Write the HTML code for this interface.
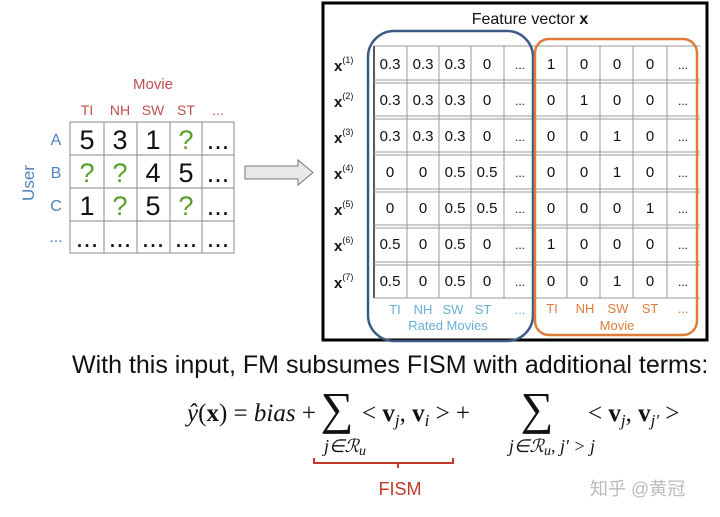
<!DOCTYPE html>
<html><head><meta charset="utf-8"><style>
html,body{margin:0;padding:0;background:#fff;}
svg{display:block;font-family:"Liberation Sans",Arial,sans-serif;}
</style></head><body>
<svg width="720" height="517" viewBox="0 0 720 517" xmlns="http://www.w3.org/2000/svg">
<!-- Left matrix -->
<text x="153" y="89" font-size="15" fill="#c0504d" text-anchor="middle">Movie</text>
<g font-size="14" fill="#c0504d" text-anchor="middle">
<text x="87" y="115">TI</text><text x="120" y="115">NH</text><text x="153" y="115">SW</text><text x="186" y="115">ST</text><text x="218" y="115">...</text>
</g>
<g font-size="16" fill="#4f81bd" text-anchor="middle">
<text x="56" y="145">A</text><text x="56" y="178">B</text><text x="56" y="211">C</text><text x="56" y="242">...</text>
</g>
<text x="0" y="0" font-size="17" fill="#4f81bd" text-anchor="middle" transform="translate(34,183) rotate(-90)">User</text>
<g stroke="#888" stroke-width="1" fill="none">
<rect x="70" y="122" width="164" height="131"/>
<line x1="104" y1="122" x2="104" y2="253"/><line x1="137" y1="122" x2="137" y2="253"/><line x1="170" y1="122" x2="170" y2="253"/><line x1="202" y1="122" x2="202" y2="253"/>
<line x1="70" y1="155" x2="234" y2="155"/><line x1="70" y1="188" x2="234" y2="188"/><line x1="70" y1="221" x2="234" y2="221"/>
</g>
<g font-size="27" text-anchor="middle" fill="#111">
<text x="87" y="149">5</text><text x="120" y="149">3</text><text x="153" y="149">1</text><text x="186" y="149" fill="#5aa02c">?</text><text x="218" y="149">...</text>
<text x="87" y="182" fill="#5aa02c">?</text><text x="120" y="182" fill="#5aa02c">?</text><text x="153" y="182">4</text><text x="186" y="182">5</text><text x="218" y="182">...</text>
<text x="87" y="215">1</text><text x="120" y="215" fill="#5aa02c">?</text><text x="153" y="215">5</text><text x="186" y="215" fill="#5aa02c">?</text><text x="218" y="215">...</text>
<text x="87" y="247">...</text><text x="120" y="247">...</text><text x="153" y="247">...</text><text x="186" y="247">...</text><text x="218" y="247">...</text>
</g>
<!-- arrow -->
<polygon points="245,166 298,166 298,160 313,172.5 298,185 298,179 245,179" fill="#e8e8e8" stroke="#777" stroke-width="1"/>
<!-- Right box -->
<rect x="323" y="3" width="384" height="337" fill="none" stroke="#000" stroke-width="3"/>
<text x="530" y="24" font-size="16" text-anchor="middle" fill="#111">Feature vector <tspan font-weight="bold">x</tspan></text>
<line x1="374" y1="46" x2="374" y2="298" stroke="#222" stroke-width="1.5"/>
<g stroke="#999" stroke-width="1" fill="none">
<line x1="374" y1="46" x2="700" y2="46"/>
<line x1="374" y1="298" x2="700" y2="298"/>
<line x1="374" y1="80" x2="700" y2="80"/><line x1="374" y1="83" x2="700" y2="83"/>
<line x1="374" y1="116" x2="700" y2="116"/><line x1="374" y1="119" x2="700" y2="119"/>
<line x1="374" y1="152" x2="700" y2="152"/><line x1="374" y1="155" x2="700" y2="155"/>
<line x1="374" y1="189" x2="700" y2="189"/><line x1="374" y1="192" x2="700" y2="192"/>
<line x1="374" y1="225" x2="700" y2="225"/><line x1="374" y1="228" x2="700" y2="228"/>
<line x1="374" y1="262" x2="700" y2="262"/><line x1="374" y1="265" x2="700" y2="265"/>
<line x1="407" y1="46" x2="407" y2="298"/><line x1="439" y1="46" x2="439" y2="298"/><line x1="471" y1="46" x2="471" y2="298"/><line x1="504" y1="46" x2="504" y2="298"/>
<line x1="567" y1="46" x2="567" y2="298"/><line x1="600" y1="46" x2="600" y2="298"/><line x1="633" y1="46" x2="633" y2="298"/><line x1="667" y1="46" x2="667" y2="298"/>
</g>
<rect x="368" y="31" width="165" height="310" rx="26" fill="none" stroke="#3c5a86" stroke-width="2.5"/>
<rect x="535" y="39" width="162" height="296" rx="14" fill="none" stroke="#e07b39" stroke-width="2.5"/>
<g font-size="15" font-weight="bold" fill="#111">
<text x="334" y="71">x<tspan font-size="9" font-weight="normal" dy="-8">(1)</tspan></text>
<text x="334" y="107">x<tspan font-size="9" font-weight="normal" dy="-8">(2)</tspan></text>
<text x="334" y="143">x<tspan font-size="9" font-weight="normal" dy="-8">(3)</tspan></text>
<text x="334" y="179">x<tspan font-size="9" font-weight="normal" dy="-8">(4)</tspan></text>
<text x="334" y="215">x<tspan font-size="9" font-weight="normal" dy="-8">(5)</tspan></text>
<text x="334" y="251">x<tspan font-size="9" font-weight="normal" dy="-8">(6)</tspan></text>
<text x="334" y="288">x<tspan font-size="9" font-weight="normal" dy="-8">(7)</tspan></text>
</g>
<g font-size="15" text-anchor="middle" fill="#111">
<text x="390" y="69">0.3</text><text x="423" y="69">0.3</text><text x="455" y="69">0.3</text><text x="487" y="69">0</text><text x="520" y="69" font-size="12">...</text>
<text x="551" y="69">1</text><text x="584" y="69">0</text><text x="617" y="69">0</text><text x="650" y="69">0</text><text x="683" y="69" font-size="12">...</text>
<text x="390" y="105">0.3</text><text x="423" y="105">0.3</text><text x="455" y="105">0.3</text><text x="487" y="105">0</text><text x="520" y="105" font-size="12">...</text>
<text x="551" y="105">0</text><text x="584" y="105">1</text><text x="617" y="105">0</text><text x="650" y="105">0</text><text x="683" y="105" font-size="12">...</text>
<text x="390" y="141">0.3</text><text x="423" y="141">0.3</text><text x="455" y="141">0.3</text><text x="487" y="141">0</text><text x="520" y="141" font-size="12">...</text>
<text x="551" y="141">0</text><text x="584" y="141">0</text><text x="617" y="141">1</text><text x="650" y="141">0</text><text x="683" y="141" font-size="12">...</text>
<text x="390" y="177">0</text><text x="423" y="177">0</text><text x="455" y="177">0.5</text><text x="487" y="177">0.5</text><text x="520" y="177" font-size="12">...</text>
<text x="551" y="177">0</text><text x="584" y="177">0</text><text x="617" y="177">1</text><text x="650" y="177">0</text><text x="683" y="177" font-size="12">...</text>
<text x="390" y="213">0</text><text x="423" y="213">0</text><text x="455" y="213">0.5</text><text x="487" y="213">0.5</text><text x="520" y="213" font-size="12">...</text>
<text x="551" y="213">0</text><text x="584" y="213">0</text><text x="617" y="213">0</text><text x="650" y="213">1</text><text x="683" y="213" font-size="12">...</text>
<text x="390" y="249">0.5</text><text x="423" y="249">0</text><text x="455" y="249">0.5</text><text x="487" y="249">0</text><text x="520" y="249" font-size="12">...</text>
<text x="551" y="249">1</text><text x="584" y="249">0</text><text x="617" y="249">0</text><text x="650" y="249">0</text><text x="683" y="249" font-size="12">...</text>
<text x="390" y="286">0.5</text><text x="423" y="286">0</text><text x="455" y="286">0.5</text><text x="487" y="286">0</text><text x="520" y="286" font-size="12">...</text>
<text x="551" y="286">0</text><text x="584" y="286">0</text><text x="617" y="286">1</text><text x="650" y="286">0</text><text x="683" y="286" font-size="12">...</text>
</g>
<g font-size="13" text-anchor="middle" fill="#6aaed6">
<text x="395" y="314">TI</text><text x="423" y="314">NH</text><text x="453" y="314">SW</text><text x="483" y="314">ST</text><text x="520" y="314">...</text>
<text x="448" y="330">Rated Movies</text>
</g>
<g font-size="13" text-anchor="middle" fill="#e07b39">
<text x="552" y="313">TI</text><text x="585" y="313">NH</text><text x="618" y="313">SW</text><text x="650" y="313">ST</text><text x="683" y="313">...</text>
<text x="617" y="330">Movie</text>
</g>
<!-- bottom text -->
<text x="72" y="373" font-size="25" fill="#111">With this input, FM subsumes FISM with additional terms:</text>
<g font-family="Liberation Serif,serif" font-size="25" fill="#111">
<text x="187" y="421"><tspan font-style="italic">ŷ</tspan>(<tspan font-weight="bold">x</tspan>) = <tspan font-style="italic">bias</tspan> +</text>
<text x="337" y="424" font-size="46" text-anchor="middle">∑</text>
<text x="362" y="421">&lt; <tspan font-weight="bold">v</tspan><tspan font-style="italic" font-size="17" dy="5">j</tspan><tspan dy="-5">, </tspan><tspan font-weight="bold">v</tspan><tspan font-style="italic" font-size="17" dy="5">i</tspan><tspan dy="-5"> &gt; +</tspan></text>
<text x="537" y="424" font-size="46" text-anchor="middle">∑</text>
<text x="588" y="421">&lt; <tspan font-weight="bold">v</tspan><tspan font-style="italic" font-size="17" dy="5">j</tspan><tspan dy="-5">, </tspan><tspan font-weight="bold">v</tspan><tspan font-style="italic" font-size="17" dy="5">j′</tspan><tspan dy="-5"> &gt;</tspan></text>
<text x="345" y="452" font-size="18" font-style="italic" text-anchor="middle">j∈ℛ<tspan font-size="14" dy="3">u</tspan></text>
<text x="552" y="452" font-size="18" font-style="italic" text-anchor="middle">j∈ℛ<tspan font-size="14" dy="3">u</tspan><tspan dy="-3">, j′ &gt; j</tspan></text>
</g>
<path d="M314,458 V463 H453 V458 M398,463 V468" fill="none" stroke="#c0392b" stroke-width="2"/>
<text x="400" y="495" font-size="18" fill="#c0392b" text-anchor="middle">FISM</text>
<text x="590" y="495" font-size="18" fill="#bbb" font-family="Liberation Sans,'Noto Sans CJK SC',sans-serif">知乎 @黄冠</text>
</svg>
</body></html>
